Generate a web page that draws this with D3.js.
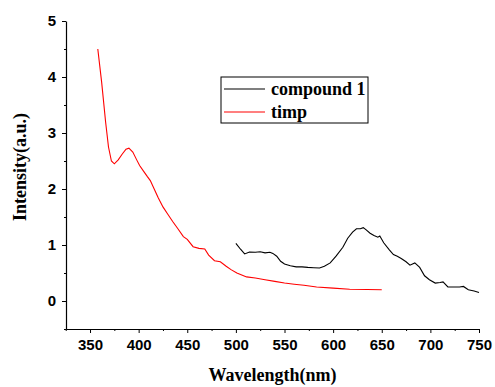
<!DOCTYPE html>
<html>
<head>
<meta charset="utf-8">
<script src="https://cdn.jsdelivr.net/npm/d3@7"></script>
<style>
  body { margin: 0; background: #fff; }
  .tick text { font-family: "Liberation Sans", Arial, sans-serif; font-weight: bold; font-size: 15px; }
</style>
</head>
<body>
<div id="chart"></div>
<script>
// timp (red)
const timpWl = [358, 362, 366, 369, 372, 375, 379, 383, 387, 390, 394, 398, 401, 405, 409, 412, 416, 420, 425, 430,
  435, 440, 446, 450, 456, 462, 468, 472, 478, 484, 490, 495, 501, 511, 520, 530, 540, 550, 560, 570, 583, 600, 617, 635, 650];
const timpVal = [4.50, 3.9, 3.2, 2.75, 2.5, 2.45, 2.52, 2.62, 2.71, 2.73, 2.66, 2.52, 2.42, 2.32, 2.22, 2.15, 2.0, 1.85, 1.68, 1.55,
  1.42, 1.30, 1.15, 1.10, 0.97, 0.94, 0.93, 0.82, 0.72, 0.70, 0.62, 0.56, 0.50, 0.43, 0.41, 0.38, 0.35, 0.32, 0.30, 0.28, 0.25, 0.23, 0.21, 0.205, 0.20];

// compound 1 (black)
const compWl = [500, 505, 509, 514, 520, 525, 530, 535, 538, 542, 546, 550, 556, 562, 568, 574, 580, 586, 591, 597,
  603, 610, 615, 620, 624, 628, 631, 634, 638, 642, 646, 648, 652, 658, 662, 666, 670, 675, 679, 684,
  689, 694, 699, 705, 710, 713, 718, 724, 730, 734, 739, 745, 750];
const compVal = [1.03, 0.92, 0.84, 0.875, 0.87, 0.88, 0.86, 0.87, 0.85, 0.80, 0.71, 0.66, 0.63, 0.61, 0.61, 0.60, 0.595, 0.59, 0.62, 0.68,
  0.80, 0.96, 1.12, 1.23, 1.29, 1.29, 1.31, 1.27, 1.21, 1.17, 1.14, 1.16, 1.04, 0.91, 0.83, 0.80, 0.76, 0.70, 0.64, 0.68,
  0.60, 0.45, 0.38, 0.32, 0.33, 0.34, 0.25, 0.25, 0.25, 0.26, 0.20, 0.18, 0.15];

const xTicks = [350, 400, 450, 500, 550, 600, 650, 700, 750];
const yTicks = [0, 1, 2, 3, 4, 5];
const seriesNames = ["compound 1", "timp"];
const seriesColors = ["#000", "#ff0000"];

const width = 495, height = 387;
const margin = { top: 21, right: 16, bottom: 58, left: 66 };

const svg = d3.select("#chart").append("svg")
  .attr("width", width)
  .attr("height", height);

const x = d3.scaleLinear().domain([325.3, 750]).range([margin.left, width - margin.right]);
const y = d3.scaleLinear().domain([-0.5, 5]).range([height - margin.bottom, margin.top]);

// x axis, major + minor
const xMinor = d3.range(325, 751, 25).filter(v => !xTicks.includes(v));
svg.append("g")
  .attr("transform", `translate(0, ${y(-0.5)})`)
  .call(d3.axisBottom(x).tickValues(xMinor).tickSize(2).tickFormat(""))
  .call(g => g.select(".domain").remove());
svg.append("g")
  .attr("transform", `translate(0, ${y(-0.5)})`)
  .call(d3.axisBottom(x).tickValues(xTicks).tickSize(4).tickSizeOuter(0).tickPadding(6))
  .call(g => g.select(".domain").attr("stroke-width", 1.2));

// y axis
const yMinor = d3.range(-0.5, 5.01, 0.5).filter(v => !yTicks.includes(v));
svg.append("g")
  .attr("transform", `translate(${x(325.3)}, 0)`)
  .call(d3.axisLeft(y).tickValues(yMinor).tickSize(2).tickFormat(""))
  .call(g => g.select(".domain").remove());
svg.append("g")
  .attr("transform", `translate(${x(325.3)}, 0)`)
  .call(d3.axisLeft(y).tickValues(yTicks).tickSize(4).tickSizeOuter(0).tickPadding(6).tickFormat(d3.format("d")))
  .call(g => g.select(".domain").attr("stroke-width", 1.2));

const line = d3.line()
  .x(d => x(d[0]))
  .y(d => y(d[1]));

svg.append("path")
  .datum(d3.zip(timpWl, timpVal))
  .attr("fill", "none")
  .attr("stroke", seriesColors[1])
  .attr("stroke-width", 1.1)
  .attr("d", line);

svg.append("path")
  .datum(d3.zip(compWl, compVal))
  .attr("fill", "none")
  .attr("stroke", seriesColors[0])
  .attr("stroke-width", 1.1)
  .attr("d", line);

// axis titles
svg.append("text")
  .attr("x", (x(325.3) + x(750)) / 2)
  .attr("y", 381)
  .attr("text-anchor", "middle")
  .style("font-family", "'Liberation Serif', 'Times New Roman', serif")
  .style("font-weight", "bold")
  .style("font-size", "18px")
  .text("Wavelength(nm)");

svg.append("text")
  .attr("transform", "translate(26, 167) rotate(-90)")
  .attr("text-anchor", "middle")
  .style("font-family", "'Liberation Serif', 'Times New Roman', serif")
  .style("font-weight", "bold")
  .style("font-size", "18px")
  .text("Intensity(a.u.)");

// legend
const legend = svg.append("g").attr("transform", "translate(221, 77)");
legend.append("rect")
  .attr("width", 147).attr("height", 46)
  .attr("fill", "#fff").attr("stroke", "#000").attr("stroke-width", 1);
seriesNames.forEach((name, i) => {
  const ly = 12 + i * 23;
  legend.append("line")
    .attr("x1", 3).attr("x2", 44).attr("y1", ly).attr("y2", ly)
    .attr("stroke", seriesColors[i]).attr("stroke-width", 1.1);
  legend.append("text")
    .attr("x", 50).attr("y", ly + 6)
    .style("font-family", "'Liberation Serif', 'Times New Roman', serif")
    .style("font-weight", "bold")
    .style("font-size", "18px")
    .text(name);
});
</script>
</body>
</html>
